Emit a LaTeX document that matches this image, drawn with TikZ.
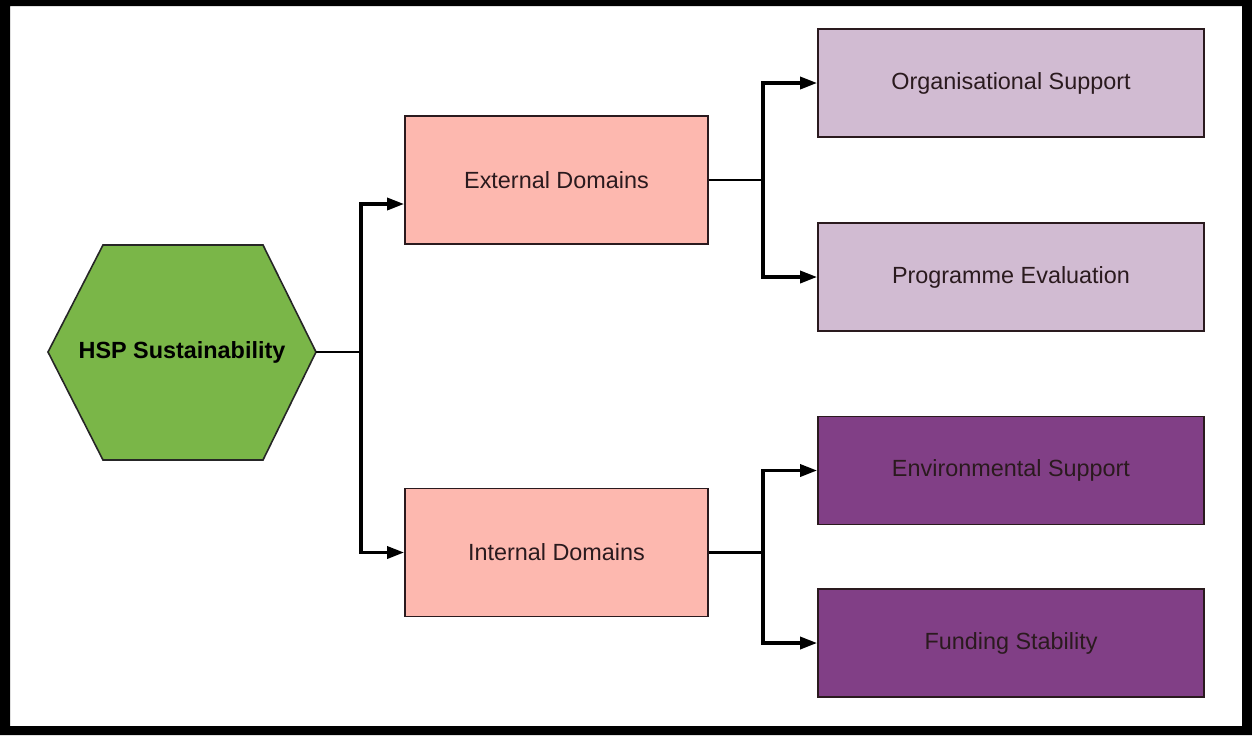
\documentclass[tikz,border=0pt]{standalone}
\usepackage{fontspec}
\setmainfont{Liberation Sans}
\usetikzlibrary{arrows.meta, calc}

\definecolor{hexgreen}{HTML}{7AB648}
\definecolor{domainpink}{HTML}{FDB8AF}
\definecolor{lightplum}{HTML}{D1BBD2}
\definecolor{darkplum}{HTML}{813F86}
\definecolor{inkdark}{HTML}{2A1A1E}

\begin{document}
\begin{tikzpicture}[x=0.5pt, y=-0.5pt,
    box/.style={draw=inkdark, line width=0.9pt, rectangle, text=inkdark,
        font=\fontsize{11.7}{14}\selectfont},
    domainbox/.style={box, fill=domainpink, minimum width=151.5pt, minimum height=64pt},
    leafbox/.style={box, minimum width=193pt, minimum height=54pt},
    link/.style={line width=1.2pt, line join=miter},
    arrowlink/.style={line width=1.7pt, line join=miter, -{Triangle[length=8.5pt, width=6pt]}}]
    \useasboundingbox (0,0) rectangle (1252,735);

    % Frame round the whole picture
    \fill[black, even odd rule] (0,0) rectangle (1252,735) (10,6) rectangle (1242,726);

    % Hexagon for the central concept
    \filldraw[fill=hexgreen, draw=black!85, line width=0.8pt]
        (48,352) -- (103,245) -- (263,245) -- (316,352) -- (263,460) -- (103,460) -- cycle;
    \node[font=\fontsize{11.7}{14}\selectfont\bfseries, text=black] (hsp) at (182,352) {HSP Sustainability};
    \coordinate (hspeast) at (316,352);

    % The two domains
    \node[domainbox] (ext) at (556.5,180) {External Domains};
    \node[domainbox] (int) at (556.5,552.5) {Internal Domains};

    % Leaves of the external domain
    \node[leafbox, fill=lightplum] (org) at (1011,83) {Organisational Support};
    \node[leafbox, fill=lightplum] (prog) at (1011,277) {Programme Evaluation};

    % Leaves of the internal domain
    \node[leafbox, fill=darkplum] (env) at (1011,470.5) {Environmental Support};
    \node[leafbox, fill=darkplum] (fund) at (1011,643) {Funding Stability};

    % Branch points of the connectors
    \coordinate (split1) at (361,352);
    \coordinate (split2) at (763,180);
    \coordinate (split3) at (763,552.5);
    \coordinate (extin) at ($(ext.west)+(0,24)$);

    % Connectors
    \draw[link] (hspeast) -- (split1);
    \draw[arrowlink] (split1) |- (extin);
    \draw[arrowlink] (split1) |- (int.west);
    \draw[link] (ext.east) -- (split2);
    \draw[arrowlink] (split2) |- (org.west);
    \draw[arrowlink] (split2) |- (prog.west);
    \draw[link] (int.east) -- (split3);
    \draw[arrowlink] (split3) |- (env.west);
    \draw[arrowlink] (split3) |- (fund.west);
\end{tikzpicture}
\end{document}
